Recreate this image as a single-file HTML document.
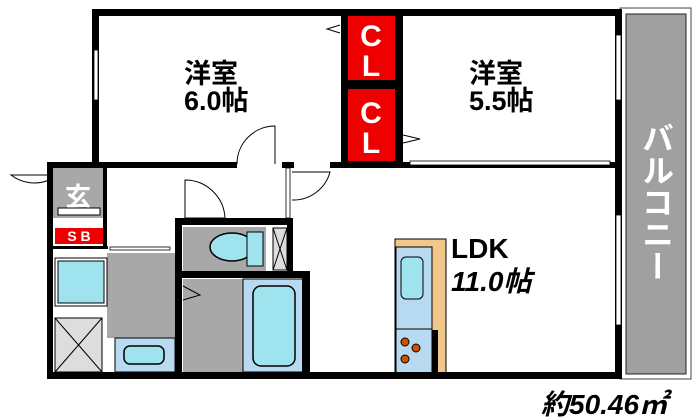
<!DOCTYPE html>
<html><head><meta charset="utf-8"><style>
html,body{margin:0;padding:0;background:#fff}
svg{display:block}
text{font-family:"Liberation Sans","Noto Sans CJK JP",sans-serif;font-weight:bold}
</style></head><body>
<svg width="700" height="420" viewBox="0 0 700 420" xmlns="http://www.w3.org/2000/svg">
<rect width="700" height="420" fill="#fff"/>
<!-- balcony -->
<rect x="620" y="8" width="71" height="371" fill="#fff" stroke="#444" stroke-width="1"/>
<rect x="626" y="14" width="60" height="360" fill="#a0a0a0" stroke="#222" stroke-width="1"/>
<text x="656" y="122" font-size="32" fill="#fff" style="writing-mode:vertical-rl">バルコニー</text>
<!-- interior fills -->
<rect x="53" y="168" width="50" height="50" fill="#a8a8a8"/>
<rect x="55" y="228" width="48" height="16" fill="#e00"/>
<text x="79" y="241" font-size="14" fill="#fff" text-anchor="middle">S B</text>
<text x="78" y="206" font-size="26" fill="#fff" text-anchor="middle">玄</text>
<rect x="58" y="208" width="42" height="7" fill="#fff" stroke="#000" stroke-width="1"/>
<rect x="107" y="253" width="68" height="85" fill="#a8a8a8"/>
<rect x="55" y="258" width="52" height="48" fill="#fff" stroke="#000"/>
<rect x="58" y="261" width="46" height="42" fill="#9fe3ef" stroke="#000"/>
<rect x="55" y="318" width="47" height="54" fill="#ddd" stroke="#000"/>
<line x1="55" y1="318" x2="102" y2="372" stroke="#000"/><line x1="102" y1="318" x2="55" y2="372" stroke="#000"/>
<rect x="115" y="338" width="60" height="34" fill="#b8daf0" stroke="#000"/>
<rect x="124" y="346" width="40" height="18" rx="6" fill="#9fe3ef" stroke="#000" stroke-width="1.5"/>
<rect x="183" y="227" width="83" height="44" fill="#a8a8a8"/>
<ellipse cx="232" cy="247" rx="22" ry="14" fill="#9fe3ef" stroke="#000" stroke-width="1.5"/>
<rect x="247" y="232" width="16" height="34" fill="#9fe3ef" stroke="#000"/>
<rect x="273" y="228" width="14" height="42" fill="#ddd" stroke="#000"/>
<line x1="273" y1="228" x2="287" y2="270" stroke="#000"/><line x1="287" y1="228" x2="273" y2="270" stroke="#000"/>
<rect x="183" y="279" width="60" height="93" fill="#a8a8a8"/>
<rect x="243" y="279" width="60" height="93" fill="#b8daf0" stroke="#000"/>
<rect x="253" y="286" width="42" height="80" rx="8" fill="#9fe3ef" stroke="#000" stroke-width="1.5"/>
<!-- kitchen -->
<rect x="395" y="239" width="51" height="135" fill="#f2c88a" stroke="#000"/>
<rect x="396" y="247" width="36" height="127" fill="#b8daf0" stroke="#000"/>
<rect x="401" y="257" width="22" height="42" rx="5" fill="#9fe3ef" stroke="#000"/>
<line x1="396" y1="329" x2="432" y2="329" stroke="#000"/>
<rect x="432" y="330" width="6" height="44" fill="#000"/>
<circle cx="405" cy="342" r="4" fill="#d05000" stroke="#000"/><circle cx="416" cy="348" r="4" fill="#d05000" stroke="#000"/><circle cx="405" cy="359" r="4" fill="#d05000" stroke="#000"/>
<!-- CL -->
<rect x="341" y="10" width="62" height="158" fill="#000"/>
<rect x="348" y="15" width="47" height="65" fill="#e00"/>
<rect x="348" y="89" width="47" height="72" fill="#e00"/>
<text x="371" y="46" font-size="30" fill="#fff" text-anchor="middle">C</text>
<text x="371" y="76" font-size="30" fill="#fff" text-anchor="middle">L</text>
<text x="371" y="123" font-size="30" fill="#fff" text-anchor="middle">C</text>
<text x="371" y="153" font-size="30" fill="#fff" text-anchor="middle">L</text>
<!-- walls -->
<g fill="#000">
<rect x="92" y="9" width="530" height="7"/>
<rect x="92" y="9" width="7" height="158"/>
<rect x="615" y="9" width="7" height="370"/>
<rect x="47" y="162" width="190" height="6"/>
<rect x="282" y="162" width="12" height="6"/>
<rect x="330" y="162" width="292" height="6"/>
<rect x="47" y="162" width="6" height="217"/>
<rect x="47" y="372" width="575" height="7"/>
<rect x="175" y="218" width="7" height="154"/>
<rect x="175" y="218" width="117" height="7"/>
<rect x="287" y="218" width="6" height="60"/>
<rect x="175" y="271" width="135" height="7"/>
<rect x="302" y="271" width="8" height="101"/>
<rect x="103" y="168" width="4" height="80"/>
<rect x="53" y="246" width="55" height="3"/>
</g>
<rect x="286" y="168" width="4" height="50" fill="#fff" stroke="#000" stroke-width="0.8"/>
<!-- windows / doors -->
<rect x="94" y="50" width="4" height="50" fill="#fff" stroke="#000" stroke-width="0.8"/>
<rect x="616" y="35" width="5" height="65" fill="#fff" stroke="#000" stroke-width="0.8"/>
<rect x="616" y="215" width="5" height="110" fill="#fff" stroke="#000" stroke-width="0.8"/>
<rect x="410" y="161" width="200" height="4" fill="#fff" stroke="#000" stroke-width="0.8"/>
<rect x="110" y="247" width="60" height="3" fill="#fff" stroke="#000" stroke-width="0.8"/>
<path d="M49 180 A38 38 0 0 1 11 175 L49 175" fill="none" stroke="#000"/>
<path d="M237 164 A38 38 0 0 1 275 126 L275 164" fill="none" stroke="#000"/>
<path d="M185 180 A40 40 0 0 1 225 218 L185 218 Z" fill="none" stroke="#000"/>
<path d="M292 200 A38 38 0 0 0 330 172 L292 172" fill="none" stroke="#000"/>
<path d="M183 286 L200 295 L183 300" fill="none" stroke="#000"/>
<path d="M340 25 L327 29 L340 33" fill="none" stroke="#000"/>
<path d="M403 135 L420 139 L403 143" fill="none" stroke="#000"/>
<!-- labels -->
<text x="184" y="83" font-size="27" fill="#000">洋室</text>
<text x="184" y="110" font-size="27" fill="#000">6.0帖</text>
<text x="469" y="83" font-size="27" fill="#000">洋室</text>
<text x="469" y="110" font-size="27" fill="#000">5.5帖</text>
<text x="451" y="258" font-size="28" fill="#000">LDK</text>
<text x="451" y="291" font-size="28" fill="#000" font-style="italic">11.0帖</text>
<text x="541" y="414" font-size="28" fill="#000" font-style="italic">約50.46㎡</text>
</svg>
</body></html>
